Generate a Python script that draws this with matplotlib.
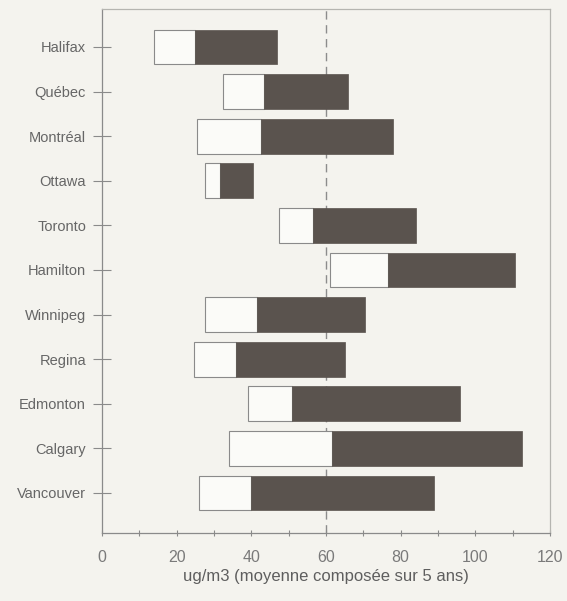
import matplotlib
matplotlib.use("Agg")
import matplotlib.pyplot as plt
from matplotlib.ticker import MultipleLocator

plt.rcParams['font.family'] = ['Liberation Sans', 'DejaVu Sans']

cities = ["Halifax", "Québec", "Montréal", "Ottawa", "Toronto", "Hamilton",
          "Winnipeg", "Regina", "Edmonton", "Calgary", "Vancouver"]
low = [14, 32.5, 25.5, 27.5, 47.5, 61, 27.5, 24.5, 39, 34, 26]
mid = [25, 43.5, 42.5, 31.5, 56.5, 76.5, 41.5, 36, 51, 61.5, 40]
high = [47, 66, 78, 40.5, 84, 110.5, 70.5, 65, 96, 112.5, 89]
xticks = [0, 20, 40, 60, 80, 100, 120]
xlabel = "ug/m3 (moyenne composée sur 5 ans)"
ref_line = 60

bg = "#f4f3ee"
ink = "#5e5e5e"
dark = "#5a534e"

fig = plt.figure(figsize=(5.67, 6.01), dpi=100, facecolor=bg)
ax = fig.add_axes([0.18, 0.113, 0.79, 0.872], facecolor=bg)

y = list(range(len(cities)))
h = 0.78
ax.barh(y, [m - l for l, m in zip(low, mid)], left=low, height=h,
        color="#fbfbf8", edgecolor="#8a8a8a", linewidth=0.8, zorder=2)
ax.barh(y, [hi - m for m, hi in zip(mid, high)], left=mid, height=h,
        color=dark, edgecolor=dark, linewidth=0.5, zorder=2)

ax.axvline(ref_line, color="#8c8c8c", linestyle=(0, (6, 4)), linewidth=1.0, zorder=1)

ax.set_xlim(0, 120)
ax.set_ylim(10.9, -0.85)
ax.set_yticks(y)
ax.set_yticklabels(cities, fontsize=10.5, color="#666666")
ax.set_xticks(xticks)
ax.set_xticklabels([str(t) for t in xticks], fontsize=11.5, color="#7a7a7a")
ax.xaxis.set_minor_locator(MultipleLocator(10))
ax.tick_params(axis="y", direction="inout", length=13, width=0.8, color="#8a8a8a", pad=5)
ax.tick_params(axis="x", which="both", direction="inout", length=4, width=0.8,
               color="#8a8a8a", pad=10)
ax.set_xlabel(xlabel, fontsize=12, color=ink, labelpad=3)

for side, sp in ax.spines.items():
    sp.set_color("#8a8a8a" if side in ("left", "bottom") else "#b5b5b0")
    sp.set_linewidth(0.9)

fig.savefig("out.png", dpi=100, facecolor=bg)
